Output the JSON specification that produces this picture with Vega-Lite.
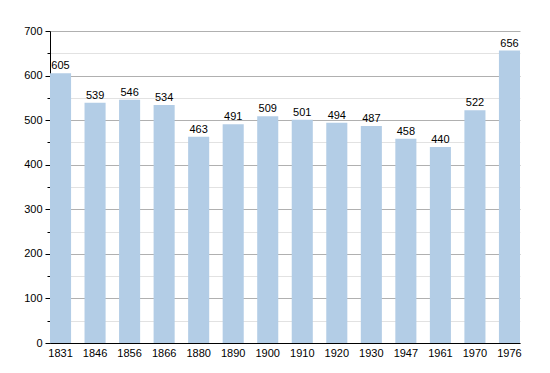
{
  "$schema": "https://vega.github.io/schema/vega-lite/v6.json",
  "width": 470,
  "height": 312,
  "autosize": "none",
  "padding": {"left": 50, "top": 31, "right": 30, "bottom": 30},
  "background": "white",
  "config": {"view": {"stroke": null}, "font": "Liberation Sans"},
  "data": {"values": [
    {"year": "1831", "pop": 605}, {"year": "1846", "pop": 539}, {"year": "1856", "pop": 546},
    {"year": "1866", "pop": 534}, {"year": "1880", "pop": 463}, {"year": "1890", "pop": 491},
    {"year": "1900", "pop": 509}, {"year": "1910", "pop": 501}, {"year": "1920", "pop": 494},
    {"year": "1930", "pop": 487}, {"year": "1947", "pop": 458}, {"year": "1961", "pop": 440},
    {"year": "1970", "pop": 522}, {"year": "1976", "pop": 656}
  ]},
  "encoding": {
    "x": {"field": "year", "type": "nominal", "sort": null,
      "scale": {"paddingInner": 0.39, "paddingOuter": 0},
      "axis": {"title": null, "labelAngle": 0, "ticks": false, "domainColor": "black", "labelColor": "black", "labelFontSize": 11, "labelPadding": 4, "grid": false}},
    "y": {"field": "pop", "type": "quantitative",
      "scale": {"domain": [0, 700], "nice": false},
      "axis": {"title": null, "values": [0,50,100,150,200,250,300,350,400,450,500,550,600,650,700],
        "labelExpr": "datum.value % 100 === 0 ? datum.label : ''",
        "grid": true,
        "gridColor": {"condition": {"test": "datum.value % 100 === 0", "value": "#b0b0b0"}, "value": "#e2e2e2"},
        "tickSize": {"condition": {"test": "datum.value % 100 === 0", "value": 5}, "value": 3},
        "tickColor": "black", "domainColor": "black", "labelColor": "black", "labelFontSize": 11, "labelPadding": 3}}
  },
  "layer": [
    {"mark": {"type": "bar", "color": "#b3cde6"}},
    {"mark": {"type": "text", "dy": -7, "fontSize": 11, "color": "black"}, "encoding": {"text": {"field": "pop", "type": "quantitative"}}}
  ]
}
